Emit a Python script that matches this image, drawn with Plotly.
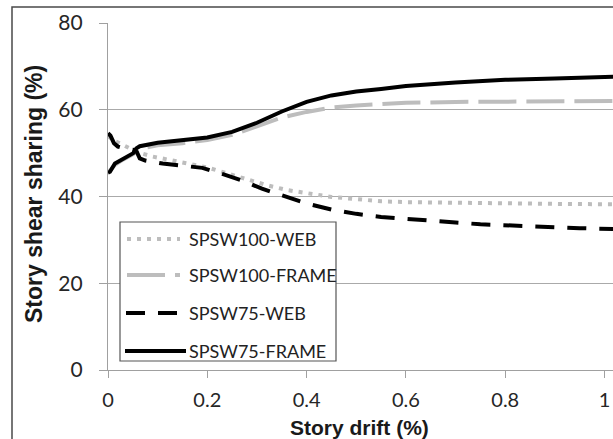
import plotly.graph_objects as go

# Story drift (%) vs. share of story shear carried by web and frame
drift_100_web = [0, 0.01, 0.03, 0.06, 0.09, 0.13, 0.165, 0.2, 0.25, 0.28, 0.32, 0.36, 0.4,
                 0.45, 0.5, 0.55, 0.6, 0.7, 0.8, 0.9, 1.02]
share_100_web = [54.0, 53.0, 51.9, 50.2, 49.2, 48.2, 47.5, 46.7, 45.0, 43.8, 42.6, 41.5, 40.7,
                 39.9, 39.4, 38.9, 38.7, 38.5, 38.4, 38.3, 38.2]

drift_100_frame = [0, 0.014, 0.03, 0.05, 0.064, 0.1, 0.15, 0.2, 0.25, 0.3, 0.35, 0.4, 0.45,
                   0.5, 0.55, 0.6, 0.7, 0.8, 0.9, 1.02]
share_100_frame = [45.5, 47.3, 48.5, 49.7, 51.0, 51.8, 52.3, 53.0, 54.2, 56.2, 58.2, 59.5, 60.5,
                   61.0, 61.3, 61.6, 61.8, 61.9, 62.0, 62.0]

drift_75_web = [0, 0.005, 0.012, 0.02, 0.035, 0.05, 0.058, 0.064, 0.075, 0.11, 0.15, 0.19,
                0.23, 0.27, 0.31, 0.36, 0.4, 0.45, 0.5, 0.55, 0.6, 0.7, 0.75, 0.83, 0.95, 1.02]
share_75_web = [54.6, 54.0, 52.3, 51.5, 51.0, 50.8, 50.3, 48.8, 48.3, 47.6, 47.1, 46.6,
                45.2, 43.7, 41.8, 40.0, 38.4, 37.0, 36.0, 35.3, 34.8, 34.0, 33.6, 33.2, 32.7, 32.5]

drift_75_frame = [0, 0.004, 0.014, 0.031, 0.051, 0.057, 0.064, 0.1, 0.15, 0.2, 0.25, 0.3,
                  0.35, 0.4, 0.45, 0.5, 0.55, 0.6, 0.7, 0.8, 0.9, 1.0, 1.02]
share_75_frame = [45.5, 45.7, 47.6, 48.8, 50.0, 51.1, 51.6, 52.4, 52.9, 53.6, 54.9, 57.0,
                  59.6, 61.8, 63.3, 64.2, 64.8, 65.5, 66.3, 66.9, 67.2, 67.5, 67.6]

series_names = ["SPSW100-WEB", "SPSW100-FRAME", "SPSW75-WEB", "SPSW75-FRAME"]
x_ticks = [0, 0.2, 0.4, 0.6, 0.8, 1.0]
x_tick_text = ["0", "0.2", "0.4", "0.6", "0.8", "1"]
y_ticks = [0, 20, 40, 60, 80]

GRAY = "#bdbdbd"
styles = [
    dict(color=GRAY, width=4, dash="4px,6px"),
    dict(color=GRAY, width=4, dash="38px,10px"),
    dict(color="#000000", width=4, dash="19px,13px"),
    dict(color="#000000", width=4, dash="solid"),
]
data = [
    (drift_100_web, share_100_web),
    (drift_100_frame, share_100_frame),
    (drift_75_web, share_75_web),
    (drift_75_frame, share_75_frame),
]

W, H = 613, 439
ML, MR, MT, MB = 108, 0, 23, 69
PW, PH = W - ML - MR, H - MT - MB


def px(x):
    return (x - ML) / PW


def py(y):
    return (H - MB - y) / PH


fig = go.Figure()
for name, (xs, ys), st in zip(series_names, data, styles):
    fig.add_trace(go.Scatter(x=xs, y=ys, mode="lines", name=name, line=st,
                             showlegend=False))

shapes = []
annotations = []

# outer chart frame (left and top edges)
shapes.append(dict(type="path", xref="paper", yref="paper",
                   path=f"M {px(12)},{py(H + 5)} L {px(12)},{py(7)} L {px(W + 5)},{py(7)}",
                   line=dict(color="#4a4a4a", width=1.5), layer="above"))

# legend box
shapes.append(dict(type="rect", xref="paper", yref="paper",
                   x0=px(120), x1=px(336), y0=py(361), y1=py(222),
                   fillcolor="white", line=dict(color="#555555", width=1.2),
                   layer="above"))
row_y = [239, 275, 313, 351]
sym_x = [(127, 180), (127, 180), (126, 179), (125, 186)]
for name, st, ry, (sx0, sx1) in zip(series_names, styles, row_y, sym_x):
    shapes.append(dict(type="line", xref="paper", yref="paper",
                       x0=px(sx0), x1=px(sx1), y0=py(ry), y1=py(ry),
                       line=dict(color=st["color"], width=st["width"], dash=st["dash"]),
                       layer="above"))
    annotations.append(dict(xref="paper", yref="paper", x=px(187), y=py(ry),
                            xanchor="left", yanchor="middle", showarrow=False,
                            text=name, font=dict(family="Lato", size=18, color="#222222")))

# axis titles
annotations.append(dict(xref="paper", yref="paper", x=px(359), y=py(427),
                        xanchor="center", yanchor="middle", showarrow=False,
                        text="<b>Story drift (%)</b>",
                        font=dict(family="Liberation Sans", size=21, color="#1a1a1a")))
annotations.append(dict(xref="paper", yref="paper", x=px(34), y=py(194),
                        xanchor="center", yanchor="middle", showarrow=False,
                        textangle=-90, text="<b>Story shear sharing (%)</b>",
                        font=dict(family="Liberation Sans", size=23, color="#1a1a1a")))

fig.update_layout(
    width=W, height=H,
    margin=dict(l=ML, r=MR, t=MT, b=MB, pad=0),
    paper_bgcolor="white", plot_bgcolor="white",
    showlegend=False,
    shapes=shapes, annotations=annotations,
    xaxis=dict(range=[0, 1.017], tickvals=x_ticks, ticktext=x_tick_text,
               showgrid=False, zeroline=False, showline=True,
               linecolor="#a0a0a0", linewidth=1.2,
               ticks="outside", ticklen=7, tickcolor="#a0a0a0", tickwidth=1.2,
               ticklabelstandoff=5,
               tickfont=dict(family="Lato", size=20, color="#262626")),
    yaxis=dict(range=[0, 80], tickvals=y_ticks,
               showgrid=True, gridcolor="#aaaaaa", gridwidth=1.2,
               zeroline=False, showline=True,
               linecolor="#a0a0a0", linewidth=1.2,
               ticks="outside", ticklen=8, tickcolor="#a0a0a0", tickwidth=1.2,
               ticklabelstandoff=12,
               tickfont=dict(family="Lato", size=21, color="#262626")),
)

fig.write_html("out.html")
